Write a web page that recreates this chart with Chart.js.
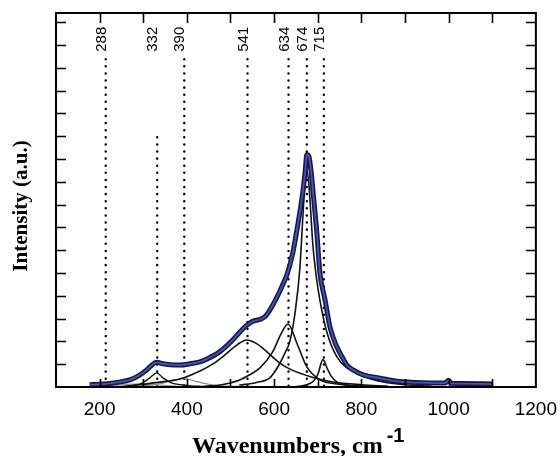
<!DOCTYPE html>
<html lang="en">
<head>
  <meta charset="UTF-8" />
  <title>Raman spectrum fit</title>
  <script src="https://cdn.jsdelivr.net/npm/chart.js"></script>
  <style>
    body { margin: 0; background: #fff; }
    canvas { display: block; }
  </style>
</head>
<body>
  <canvas id="ramanChart" width="560" height="456"></canvas>

  <script>
    // measured spectrum (wavenumber / intensity in tick units)
    const specX = [177, 200, 240, 269, 290, 308, 322, 331, 345, 361, 384, 413, 430, 445, 475, 505, 521, 537, 551, 567, 580, 597, 613, 620, 629, 643, 655, 664, 671, 675, 680, 685, 689, 698, 705, 717, 728, 744, 758, 767, 781, 804, 843, 882, 958, 992, 1000, 1006, 1034, 1102];
    const specY = [0.1, 0.12, 0.2, 0.31, 0.5, 0.75, 1.0, 1.08, 1.02, 0.98, 0.96, 1.04, 1.1, 1.22, 1.54, 2.06, 2.4, 2.7, 2.88, 2.96, 3.1, 3.6, 4.2, 4.5, 4.9, 5.9, 7.2, 8.3, 9.4, 10.2, 10.1, 9.4, 8.6, 6.75, 5.0, 3.8, 2.63, 1.75, 1.25, 0.95, 0.75, 0.53, 0.39, 0.25, 0.18, 0.17, 0.3, 0.16, 0.15, 0.13];

    // fitted components
    const band541X = [260, 300, 331, 384, 430, 459, 490, 515, 537, 560, 583, 613, 640, 689, 735, 800, 860];
    const band541Y = [0.04, 0.12, 0.2, 0.35, 0.7, 1.0, 1.45, 1.85, 2.06, 1.9, 1.55, 1.05, 0.75, 0.42, 0.22, 0.1, 0.04];
    const band634X = [440, 480, 521, 545, 567, 597, 615, 632, 652, 675, 705, 736, 780, 830];
    const band634Y = [0.03, 0.1, 0.31, 0.55, 0.83, 1.55, 2.3, 2.76, 1.93, 0.88, 0.31, 0.15, 0.06, 0.03];
    const band674X = [520, 560, 590, 609, 625, 636, 648, 659, 666, 671, 675, 680, 689, 697, 705, 721, 744, 790, 843, 900, 960];
    const band674Y = [0.08, 0.2, 0.4, 0.9, 1.5, 2.0, 3.25, 5.2, 7.5, 9.0, 9.5, 8.8, 6.2, 4.8, 3.8, 2.4, 1.32, 0.6, 0.25, 0.1, 0.04];
    const band715X = [650, 670, 690, 700, 712, 722, 730, 745, 770, 800];
    const band715Y = [0.02, 0.08, 0.25, 0.55, 1.2, 0.8, 0.5, 0.2, 0.07, 0.02];
    const band332X = [240, 270, 295, 315, 331, 345, 365, 400, 440];
    const band332Y = [0.02, 0.05, 0.15, 0.4, 0.62, 0.4, 0.18, 0.07, 0.02];
    const band390X = [250, 290, 340, 370, 393, 420, 450, 490, 530];
    const band390Y = [0.02, 0.05, 0.15, 0.3, 0.38, 0.25, 0.12, 0.04, 0.02];
    const band288X = [180, 200, 250, 288, 330, 380, 420];
    const band288Y = [0.02, 0.04, 0.1, 0.14, 0.09, 0.03, 0.02];

    // dotted marker lines and their labels
    const lineX = [214, 332, 394, 539, 633, 675, 714];
    const lineTop = [14.4, 11.2, 14.4, 14.4, 14.4, 14.4, 14.4];
    const peakLabels = ['288', '332', '390', '541', '634', '674', '715'];

    // axes
    const xLabelVals = [200, 400, 600, 800, 1000, 1200];
    const xTickVals = [200, 300, 400, 500, 600, 700, 800, 900, 1000, 1100];
    const yTickVals = [1, 2, 3, 4, 5, 6, 7, 8, 9, 10, 11, 12, 13, 14, 15, 16];

    const pts = (xs, ys) => xs.map((v, i) => ({ x: v, y: ys[i] }));

    function band(xs, ys, color, width) {
      return {
        data: pts(xs, ys),
        borderColor: color,
        borderWidth: width,
        pointRadius: 0,
        showLine: true,
        cubicInterpolationMode: 'monotone',
        order: 2
      };
    }

    const datasets = [];
    // main spectrum: dark outline + lighter core
    datasets.push({
      data: pts(specX, specY), borderColor: '#4654b4', borderWidth: 1.8,
      pointRadius: 0, showLine: true, cubicInterpolationMode: 'monotone', order: 0
    });
    datasets.push({
      data: pts(specX, specY), borderColor: '#15184a', borderWidth: 5,
      pointRadius: 0, showLine: true, cubicInterpolationMode: 'monotone', order: 1
    });
    datasets.push(band(band541X, band541Y, '#111', 1.6));
    datasets.push(band(band634X, band634Y, '#111', 1.6));
    datasets.push(band(band674X, band674Y, '#111', 1.6));
    datasets.push(band(band715X, band715Y, '#111', 1.6));
    datasets.push(band(band332X, band332Y, '#111', 1.4));
    datasets.push(band(band390X, band390Y, '#8a8a8a', 1.2));
    datasets.push(band(band288X, band288Y, '#9a9a9a', 1.2));

    lineX.forEach((v, i) => {
      datasets.push({
        data: [{ x: v, y: 0.05 }, { x: v, y: lineTop[i] }],
        borderColor: '#000',
        borderWidth: 2.4,
        borderDash: [0.1, 7],
        borderCapStyle: 'round',
        pointRadius: 0,
        showLine: true,
        order: 3
      });
    });

    const framePlugin = {
      id: 'frame',
      afterDatasetsDraw(chart) {
        const { ctx, chartArea: a, scales: { x, y } } = chart;
        ctx.save();
        ctx.strokeStyle = '#000';
        ctx.lineWidth = 2;
        ctx.strokeRect(a.left, a.top, a.right - a.left, a.bottom - a.top);

        // inward tick marks
        ctx.lineWidth = 1.6;
        ctx.beginPath();
        xTickVals.forEach(v => {
          const px = Math.round(x.getPixelForValue(v)) + 0.5;
          ctx.moveTo(px, a.top); ctx.lineTo(px, a.top + 10);
          ctx.moveTo(px, a.bottom); ctx.lineTo(px, a.bottom - 8);
        });
        yTickVals.forEach(v => {
          const py = Math.round(y.getPixelForValue(v)) + 0.5;
          ctx.moveTo(a.left, py); ctx.lineTo(a.left + 10, py);
          ctx.moveTo(a.right, py); ctx.lineTo(a.right - 10, py);
        });
        ctx.stroke();

        // rotated peak labels
        ctx.fillStyle = '#000';
        ctx.font = '15px "Liberation Sans", Arial, sans-serif';
        ctx.textAlign = 'left';
        ctx.textBaseline = 'middle';
        lineX.forEach((v, i) => {
          ctx.save();
          ctx.translate(x.getPixelForValue(v) - 4, y.getPixelForValue(14.7));
          ctx.rotate(-Math.PI / 2);
          ctx.fillText(peakLabels[i], 0, 0);
          ctx.restore();
        });
        ctx.restore();
      },
      afterDraw(chart) {
        const { ctx } = chart;
        ctx.save();
        ctx.fillStyle = '#000';
        // x title with superscript
        ctx.font = 'bold 24px "Liberation Serif", "Times New Roman", serif';
        ctx.textAlign = 'left';
        ctx.textBaseline = 'alphabetic';
        ctx.fillText('Wavenumbers, cm', 192, 453);
        const w = ctx.measureText('Wavenumbers, cm').width;
        ctx.font = 'bold 20px "Liberation Sans", Arial, sans-serif';
        ctx.fillText('-1', 192 + w + 4, 442);
        // y title
        ctx.font = 'bold 21px "Liberation Serif", "Times New Roman", serif';
        ctx.textAlign = 'center';
        ctx.textBaseline = 'middle';
        ctx.translate(22, 206);
        ctx.rotate(-Math.PI / 2);
        ctx.fillText('Intensity (a.u.)', 0, 0);
        ctx.restore();
      }
    };

    new Chart(document.getElementById('ramanChart').getContext('2d'), {
      type: 'scatter',
      data: { datasets },
      plugins: [framePlugin],
      options: {
        responsive: false,
        animation: false,
        layout: { padding: { top: 13, right: 23, left: 0, bottom: 0 } },
        plugins: { legend: { display: false }, tooltip: { enabled: false } },
        scales: {
          x: {
            type: 'linear',
            min: 100,
            max: 1200,
            grid: { display: false },
            border: { display: false },
            ticks: {
              stepSize: 100,
              autoSkip: false,
              maxRotation: 0,
              padding: 3,
              color: '#000',
              font: { family: '"Liberation Sans", Arial, sans-serif', size: 19 },
              callback: v => xLabelVals.includes(v) ? String(v) : ''
            },
            afterFit: s => { s.height = 69; }
          },
          y: {
            min: 0,
            max: 16.4,
            grid: { display: false },
            border: { display: false },
            ticks: { display: false },
            afterFit: s => { s.width = 56; }
          }
        }
      }
    });
  </script>
</body>
</html>
